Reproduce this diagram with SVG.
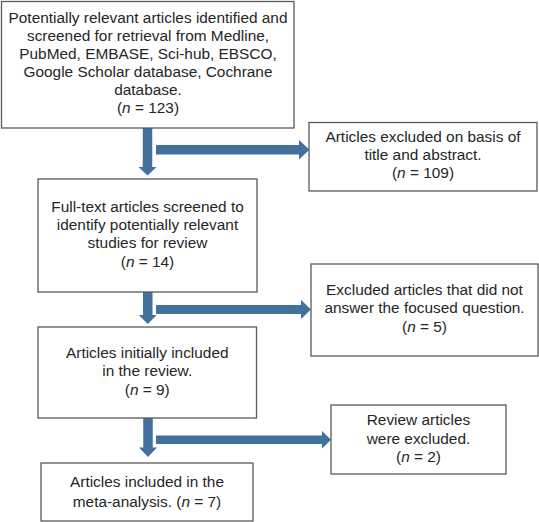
<svg xmlns="http://www.w3.org/2000/svg" width="539" height="522" viewBox="0 0 539 522">
<style>
.box{fill:#fff;stroke:#5a5a5a;stroke-width:1.3}
.t{font-family:"Liberation Sans",Arial,sans-serif;font-size:15.4px;fill:#262626;text-anchor:middle}
.arr{fill:#41719C}
</style>
<rect width="539" height="522" fill="#fff"/>
<g id="connectors">
<polygon class="arr" points="142.75,128 152.25,128 152.25,167 156.5,167 147.5,175.5 138.5,167 142.75,167"/>
<polygon class="arr" points="156,145 299,145 299,140 309.5,149.75 299,159.5 299,154.5 156,154.5"/>
<polygon class="arr" points="143,292 152.5,292 152.5,315 156.75,315 147.75,324 138.75,315 143,315"/>
<polygon class="arr" points="156,305 301,305 301,300 311,309.5 301,319 301,314 156,314"/>
<polygon class="arr" points="143.25,418 152.75,418 152.75,447.5 157,447.5 148,457 139,447.5 143.25,447.5"/>
<polygon class="arr" points="156,435.5 322,435.5 322,431 331,439.75 322,448.5 322,444 156,444"/>
</g>
<g id="node1">
<rect class="box" x="1.5" y="1.5" width="292.5" height="126.5"/>
<text class="t" x="148" y="22.7">Potentially relevant articles identified and</text>
<text class="t" x="148" y="40.8">screened for retrieval from Medline,</text>
<text class="t" x="148" y="58.9">PubMed, EMBASE, Sci-hub, EBSCO,</text>
<text class="t" x="148" y="77">Google Scholar database, Cochrane</text>
<text class="t" x="148" y="95.1">database.</text>
<text class="t" x="148" y="113.3">(<tspan font-style="italic">n</tspan> = 123)</text>
</g>
<g id="node2">
<rect class="box" x="309" y="122.5" width="228" height="68.5"/>
<text class="t" x="423" y="141.7">Articles excluded on basis of</text>
<text class="t" x="423" y="160">title and abstract.</text>
<text class="t" x="423" y="178.2">(<tspan font-style="italic">n</tspan> = 109)</text>
</g>
<g id="node3">
<rect class="box" x="38" y="179" width="219" height="113"/>
<text class="t" x="147.5" y="211.7">Full-text articles screened to</text>
<text class="t" x="147.5" y="230">identify potentially relevant</text>
<text class="t" x="147.5" y="248.3">studies for review</text>
<text class="t" x="147.5" y="266.6">(<tspan font-style="italic">n</tspan> = 14)</text>
</g>
<g id="node4">
<rect class="box" x="311" y="264" width="227" height="92"/>
<text class="t" x="424.5" y="295">Excluded articles that did not</text>
<text class="t" x="424.5" y="313.3">answer the focused question.</text>
<text class="t" x="424.5" y="331.6">(<tspan font-style="italic">n</tspan> = 5)</text>
</g>
<g id="node5">
<rect class="box" x="38" y="327" width="218.5" height="91"/>
<text class="t" x="147.25" y="358">Articles initially included</text>
<text class="t" x="147.25" y="376.3">in the review.</text>
<text class="t" x="147.25" y="394.6">(<tspan font-style="italic">n</tspan> = 9)</text>
</g>
<g id="node6">
<rect class="box" x="331" y="405" width="175" height="69"/>
<text class="t" x="418.5" y="425">Review articles</text>
<text class="t" x="418.5" y="443.6">were excluded.</text>
<text class="t" x="418.5" y="462.2">(<tspan font-style="italic">n</tspan> = 2)</text>
</g>
<g id="node7">
<rect class="box" x="41" y="463" width="212" height="58"/>
<text class="t" x="147" y="487.3">Articles included in the</text>
<text class="t" x="147" y="506.7">meta-analysis. (<tspan font-style="italic">n</tspan> = 7)</text>
</g>
</svg>
